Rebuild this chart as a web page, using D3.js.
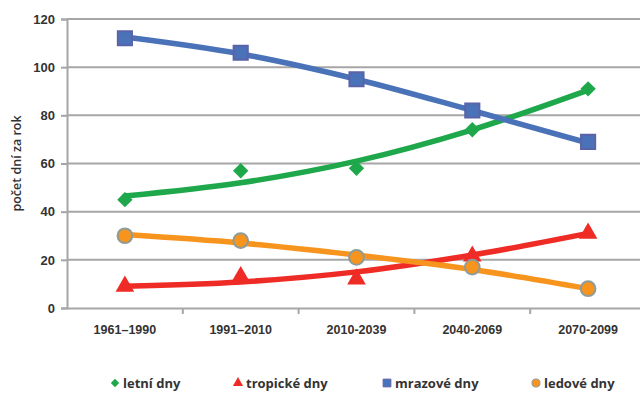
<!DOCTYPE html>
<html>
<head>
<meta charset="utf-8">
<script src="https://cdn.jsdelivr.net/npm/d3@7"></script>
<style>
  body { margin: 0; background: #fff; }
  svg { display: block; font-family: "Open Sans", "DejaVu Sans", sans-serif; }
</style>
</head>
<body>
<div id="chart"></div>
<script>
// období
const periods = ['1961–1990', '1991–2010', '2010-2039', '2040-2069', '2070-2099']
const yTicks = [0, 20, 40, 60, 80, 100, 120]

// naměřené / modelované hodnoty (body)
const letni = [45, 57, 58, 74, 91]
const tropicke = [9, 13, 12, 21.5, 31]
const mrazove = [112, 106, 95, 82, 69]
const ledove = [30, 28, 21, 17, 8]

// spojnice trendu
const letniTrend = [46.5, 52, 61, 74, 90.5]
const tropickeTrend = [9, 10.8, 15, 22, 31]
const mrazoveTrend = [112.5, 105.5, 95, 82, 68.5]
const ledoveTrend = [30.5, 27, 22, 16, 8]

const W = 640, H = 394
const margin = { left: 67, right: -6, top: 19, bottom: 86 }

const svg = d3.select('#chart').append('svg')
    .attr('width', W)
    .attr('height', H)

const x = d3.scaleBand()
    .domain(periods)
    .range([margin.left, W - margin.right])

const y = d3.scaleLinear()
    .domain([0, 120])
    .range([H - margin.bottom, margin.top])

// mřížka
svg.append('g')
    .selectAll('line')
    .data(yTicks.filter(d => d > 0))
    .join('line')
    .attr('x1', margin.left)
    .attr('x2', W)
    .attr('y1', d => y(d))
    .attr('y2', d => y(d))
    .attr('stroke', '#a6a6a6')
    .attr('stroke-width', 2)

// osa y
const yAxis = svg.append('g')
    .attr('transform', 'translate(' + margin.left + ',0)')
    .call(d3.axisLeft(y).tickValues(yTicks).tickSize(6).tickPadding(6))
yAxis.select('.domain').attr('stroke', '#a6a6a6').attr('stroke-width', 2)
yAxis.selectAll('.tick line').attr('stroke', '#a6a6a6').attr('stroke-width', 2)
yAxis.selectAll('text')
    .attr('fill', '#333')
    .style('font-size', '13px')
    .style('font-weight', '600')

// osa x
const xAxis = svg.append('g')
    .attr('transform', 'translate(0,' + y(0) + ')')
    .call(d3.axisBottom(x).tickSize(0).tickPadding(17))
xAxis.select('.domain').attr('stroke', '#a6a6a6').attr('stroke-width', 2)
xAxis.selectAll('text')
    .attr('fill', '#333')
    .style('font-size', '12.5px')
    .style('font-weight', '600')
// značky mezi kategoriemi
svg.append('g')
    .selectAll('line')
    .data(periods.slice(1))
    .join('line')
    .attr('x1', d => x(d))
    .attr('x2', d => x(d))
    .attr('y1', y(0))
    .attr('y2', y(0) + 6)
    .attr('stroke', '#a6a6a6')
    .attr('stroke-width', 2)

// popisek osy y
svg.append('text')
    .attr('transform', 'translate(21,' + y(60) + ') rotate(-90)')
    .attr('text-anchor', 'middle')
    .attr('fill', '#333')
    .style('font-size', '12.5px')
    .style('font-weight', '600')
    .text('počet dní za rok')

const cx = i => x(periods[i]) + x.bandwidth() / 2

const series = [
    { name: 'letní dny', values: letni, trend: letniTrend, color: '#1fa84b', symbol: d3.symbolDiamond2, size: 150, stroke: 'none' },
    { name: 'tropické dny', values: tropicke, trend: tropickeTrend, color: '#ee2b24', symbol: d3.symbolTriangle, size: 150, stroke: 'none' },
    { name: 'mrazové dny', values: mrazove, trend: mrazoveTrend, color: '#4a72b8', symbol: d3.symbolSquare, size: 200, stroke: '#5b63a8' },
    { name: 'ledové dny', values: ledove, trend: ledoveTrend, color: '#f7941d', symbol: d3.symbolCircle, size: 170, stroke: '#8d9c9a' }
]

const line = d3.line()
    .x((d, i) => cx(i))
    .y(d => y(d))
    .curve(d3.curveMonotoneX)

// spojnice
svg.append('g')
    .selectAll('path')
    .data(series)
    .join('path')
    .attr('fill', 'none')
    .attr('stroke', d => d.color)
    .attr('stroke-width', 5.5)
    .attr('stroke-linecap', 'round')
    .attr('d', d => line(d.trend))

// body
series.forEach(s => {
    svg.append('g')
        .selectAll('path')
        .data(s.values)
        .join('path')
        .attr('d', d3.symbol().type(s.symbol).size(s.size))
        .attr('transform', (d, i) => 'translate(' + cx(i) + ',' + y(d) + ')')
        .attr('fill', s.color)
        .attr('stroke', s.stroke)
        .attr('stroke-width', 2)
})

// legenda
const legendX = [115, 238, 387, 536]
const legend = svg.append('g')
    .selectAll('g')
    .data(series)
    .join('g')
    .attr('transform', (d, i) => 'translate(' + legendX[i] + ',383)')
legend.append('path')
    .attr('d', d => d3.symbol().type(d.symbol).size(d.size * 0.3)())
    .attr('fill', d => d.color)
    .attr('stroke', d => d.stroke)
    .attr('stroke-width', 1)
legend.append('text')
    .attr('x', 8)
    .attr('dy', '0.35em')
    .attr('fill', '#333')
    .style('font-size', '13px')
    .style('font-weight', '700')
    .text(d => d.name)
</script>
</body>
</html>
